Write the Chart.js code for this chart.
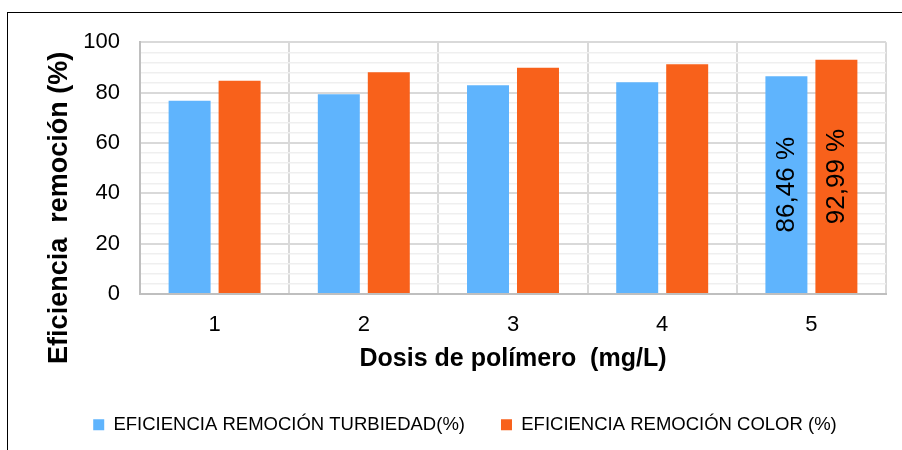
<!DOCTYPE html>
<html>
<head>
<meta charset="utf-8">
<script src="https://cdn.jsdelivr.net/npm/chart.js@4.4.1/dist/chart.umd.min.js"></script>
<style>
  html, body { margin: 0; padding: 0; background: #fff; }
  #frame {
    position: absolute; left: 7px; top: 12px; width: 895px; height: 438px;
    border-top: 1px solid #000; border-left: 1px solid #000; box-sizing: border-box;
  }
  #frame canvas { display: block; }
</style>
</head>
<body>
<div id="frame"><canvas id="chart" width="894" height="437"></canvas></div>
<script>
const doses = ['1', '2', '3', '4', '5'];
const turbidityRemoval = [76.8, 79.3, 82.9, 84.1, 86.46];
const colorRemoval = [84.7, 88.1, 89.9, 91.2, 92.99];
const labeledIndex = 4; // only the last dose carries value labels

const FONT = 'Arial, "Liberation Sans", sans-serif';

// value labels, rotated, drawn in the middle of the bar
const barLabels = {
  id: 'barLabels',
  afterDatasetsDraw(chart) {
    const ctx = chart.ctx;
    chart.data.datasets.forEach((ds, i) => {
      const bar = chart.getDatasetMeta(i).data[labeledIndex];
      if (!bar) return;
      const text = ds.data[labeledIndex].toFixed(2).replace('.', ',') + ' %';
      ctx.save();
      ctx.translate(bar.x, (bar.y + bar.base) / 2);
      ctx.rotate(-Math.PI / 2);
      ctx.font = '26px ' + FONT;
      ctx.fillStyle = '#000';
      ctx.textAlign = 'center';
      ctx.textBaseline = 'middle';
      ctx.fillText(text, 0, 0);
      ctx.restore();
    });
  }
};

// y axis title, centred over plot area plus the x axis block
const yTitle = {
  id: 'yTitle',
  afterDraw(chart) {
    const ctx = chart.ctx;
    const cy = (chart.chartArea.top + chart.scales.x.bottom) / 2 - 3;
    ctx.save();
    ctx.translate(52, cy);
    ctx.rotate(-Math.PI / 2);
    ctx.font = 'bold 27px ' + FONT;
    ctx.fillStyle = '#000';
    ctx.textAlign = 'center';
    ctx.textBaseline = 'middle';
    ctx.fillText('Eficiencia  remoción (%)', 0, 0);
    ctx.restore();
  }
};

new Chart(document.getElementById('chart'), {
  type: 'bar',
  data: {
    labels: doses,
    datasets: [{
      label: 'EFICIENCIA REMOCIÓN TURBIEDAD(%)',
      data: turbidityRemoval,
      backgroundColor: '#5fb4fd',
      barPercentage: 0.84,
      categoryPercentage: 0.67
    }, {
      label: 'EFICIENCIA REMOCIÓN COLOR (%)',
      data: colorRemoval,
      backgroundColor: '#f8611b',
      barPercentage: 0.84,
      categoryPercentage: 0.67
    }]
  },
  options: {
    responsive: false,
    animation: false,
    layout: { padding: { left: 36, right: 16, top: 12, bottom: 6 } },
    plugins: {
      tooltip: { enabled: false },
      legend: {
        position: 'bottom',
        labels: {
          font: { family: FONT, size: 18.5 },
          color: '#000',
          boxWidth: 11,
          boxHeight: 11,
          padding: 36
        }
      }
    },
    scales: {
      x: {
        grid: { color: '#d9d9d9', lineWidth: 2, drawTicks: false },
        border: { color: '#bfbfbf', width: 2 },
        ticks: { font: { family: FONT, size: 22 }, color: '#000', padding: 18 },
        title: {
          display: true,
          text: 'Dosis de polímero  (mg/L)',
          font: { family: FONT, size: 25, weight: 'bold' },
          color: '#000',
          padding: { top: -12, bottom: 5 }
        }
      },
      y: {
        min: 0,
        max: 100,
        afterFit: s => { s.width = 96; },
        ticks: {
          stepSize: 4,
          autoSkip: false,
          font: { family: FONT, size: 22 },
          color: '#000',
          padding: 16,
          callback: v => (v % 20 === 0 ? v : '')
        },
        grid: {
          drawTicks: true,
          tickLength: 4,
          tickColor: 'rgba(0,0,0,0)',
          color: c => (c.tick && c.tick.value % 20 === 0 ? '#d9d9d9' : '#efefef'),
          lineWidth: c => (c.tick && c.tick.value % 20 === 0 ? 2 : 1.5)
        },
        border: { color: '#bfbfbf', width: 2 }
      }
    }
  },
  plugins: [barLabels, yTitle]
});
</script>
</body>
</html>
